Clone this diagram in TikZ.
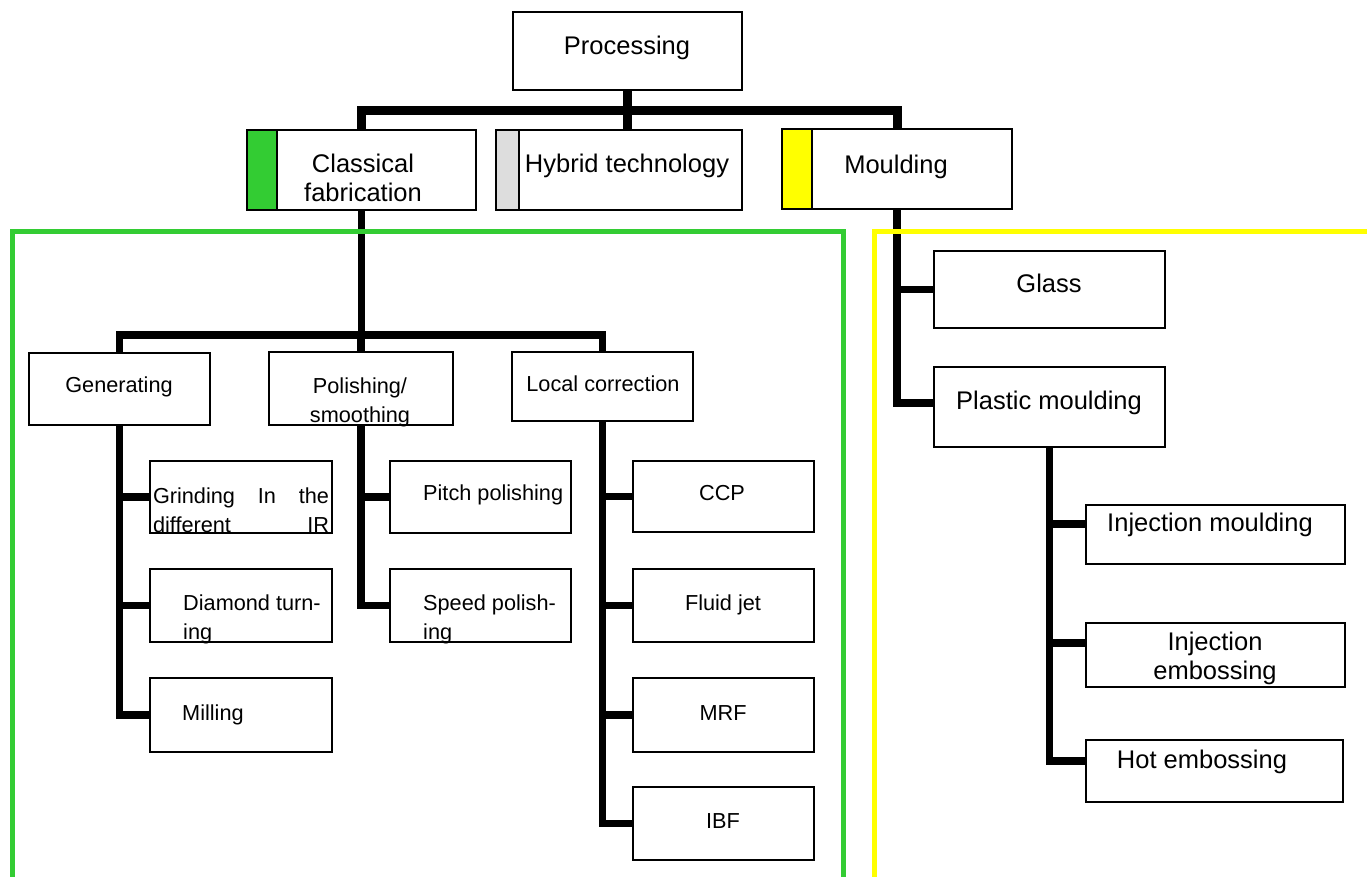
\documentclass[tikz,border=0pt]{standalone}
\usepackage{fontspec}
\setmainfont{Liberation Sans}
\definecolor{frameGreen}{RGB}{51,204,51}
\definecolor{tagGrey}{RGB}{221,221,221}
\definecolor{frameYellow}{RGB}{255,255,0}
% \mkbox[options]{name}{x1}{y1}{x2}{y2}: an empty framed box between two corners
\newcommand\mkbox[6][]{%
  \node[box,#1,minimum width={(#5)-(#3)},minimum height={(#6)-(#4)}]
    (#2) at ({((#3)+(#5))/2},{((#4)+(#6))/2}) {};}
\begin{document}
\begin{tikzpicture}[x=1pt,y=-1pt,
  box/.style={draw,line width=2pt,inner sep=0pt,outer sep=0pt,fill=white},
  bus/.style={line width=9pt,line join=miter},
  conn/.style={line width=7.5pt,line join=miter},
  big/.style={font=\fontsize{25.5}{29}\selectfont,inner sep=0pt},
  small/.style={font=\fontsize{21.7}{29}\selectfont,inner sep=0pt},
  one/.style={text height=0.72em,text depth=0.21em},
]
\useasboundingbox (0,0) rectangle (1367,877);

% top level
\mkbox{proc}{513}{12}{742}{90}
\mkbox{clas}{247}{130}{476}{210}
\mkbox[fill=frameGreen]{tagC}{247}{130}{277}{210}
\mkbox{hyb}{496}{130}{742}{210}
\mkbox[fill=tagGrey]{tagH}{496}{130}{519}{210}
\mkbox{mould}{782}{129}{1012}{209}
\mkbox[fill=frameYellow]{tagM}{782}{129}{812}{209}

% classical fabrication branch
\mkbox{gen}{29}{353}{210}{425}
\mkbox{pol}{269}{352}{453}{425}
\mkbox{loc}{512}{352}{693}{421}
\mkbox{grind}{150}{461}{332}{533}
\mkbox{diam}{150}{569}{332}{642}
\mkbox{mill}{150}{678}{332}{752}
\mkbox{pitch}{390}{461}{571}{533}
\mkbox{speed}{390}{569}{571}{642}
\mkbox{ccp}{633}{461}{814}{532}
\mkbox{fluid}{633}{569}{814}{642}
\mkbox{mrf}{633}{678}{814}{752}
\mkbox{ibf}{633}{787}{814}{860}

% moulding branch
\mkbox{glass}{934}{251}{1165}{328}
\mkbox{plast}{934}{367}{1165}{447}
\mkbox{injm}{1086}{505}{1345}{564}
\mkbox{inje}{1086}{623}{1345}{687}
\mkbox{hot}{1086}{740}{1343}{802}

% bus levels
\coordinate (busA) at (627,111);
\coordinate (busB) at (0,335);

% connectors
\draw[bus] (proc.south) -- (proc.south |- hyb.north);
\draw[bus] (clas.north) -- (clas.north |- busA) -- (mould.north |- busA) -- (mould.north);
\draw[conn] (clas.south) -- (clas.south |- busB);
\draw[conn] (gen.north) -- (gen.north |- busB) -- (loc.north |- busB) -- (loc.north);
\draw[conn] (pol.north) -- (pol.north |- busB);

\draw[conn] (gen.south) |- (grind.west);
\draw[conn] (gen.south) |- (diam.west);
\draw[conn] (gen.south) |- (mill.west);
\draw[conn] (pol.south) |- (pitch.west);
\draw[conn] (pol.south) |- (speed.west);
\draw[conn] (loc.south) |- (ccp.west);
\draw[conn] (loc.south) |- (fluid.west);
\draw[conn] (loc.south) |- (mrf.west);
\draw[conn] (loc.south) |- (ibf.west);

\draw[conn] (mould.south) |- (glass.west);
\draw[conn] (mould.south) |- ([yshift=4pt]plast.west);
\draw[conn] (plast.south) |- ([yshift=10.5pt]injm.west);
\draw[conn] (plast.south) |- ([yshift=12pt]inje.west);
\draw[conn] (plast.south) |- ([yshift=10pt]hot.west);

% group frames
\coordinate (gA) at (12,882);
\coordinate (gB) at (12,232);
\coordinate (gC) at (843,232);
\coordinate (gD) at (843,882);
\draw[frameGreen,line width=5pt,line join=miter] (gA) -- (gB) -- (gC) -- (gD);
\coordinate (yA) at (874,882);
\coordinate (yB) at (874,232);
\coordinate (yC) at (1372,232);
\draw[frameYellow,line width=5pt,line join=miter] (yA) -- (yB) -- (yC);

% labels
\node[big,one] (t-proc) at (627,51.5) {Processing};
\node[big,align=center] (t-clas) at (363,178) {Classical\\fabrication};
\node[big,one] (t-hyb) at (627,169.5) {Hybrid technology};
\node[big,one] (t-mould) at (896,171) {Moulding};
\node[big,one] (t-glass) at (1049,289.5) {Glass};
\node[big,one] (t-plast) at (1049,406.5) {Plastic moulding};
\node[big,one] (t-injm) at (1210,529) {Injection moulding};
\node[big,align=center] (t-inje) at (1215,658) {Injection\\embossing};
\node[big,one] (t-hot) at (1202,766) {Hot embossing};

\node[small,one] (t-gen) at (119,390) {Generating};
\node[small,align=center] (t-pol) at (360,402) {Polishing/\\smoothing};
\node[small,one] (t-loc) at (603,389) {Local correction};
\node[small,align=left] (t-grind) at (241,510) {\makebox[176pt][s]{Grinding In the}\\\makebox[176pt][s]{different IR}};
\node[small,align=left,anchor=west] (t-diam) at (183,619) {Diamond turn-\\ing};
\node[small,one,anchor=west] (t-mill) at (182,718) {Milling};
\node[small,one,anchor=west] (t-pitch) at (423,498) {Pitch polishing};
\node[small,align=left,anchor=west] (t-speed) at (423,619) {Speed polish-\\ing};
\node[small,one] (t-ccp) at (722,498) {CCP};
\node[small,one] (t-fluid) at (723,608) {Fluid jet};
\node[small,one] (t-mrf) at (723,718) {MRF};
\node[small,one] (t-ibf) at (723,826) {IBF};
\end{tikzpicture}
\end{document}
